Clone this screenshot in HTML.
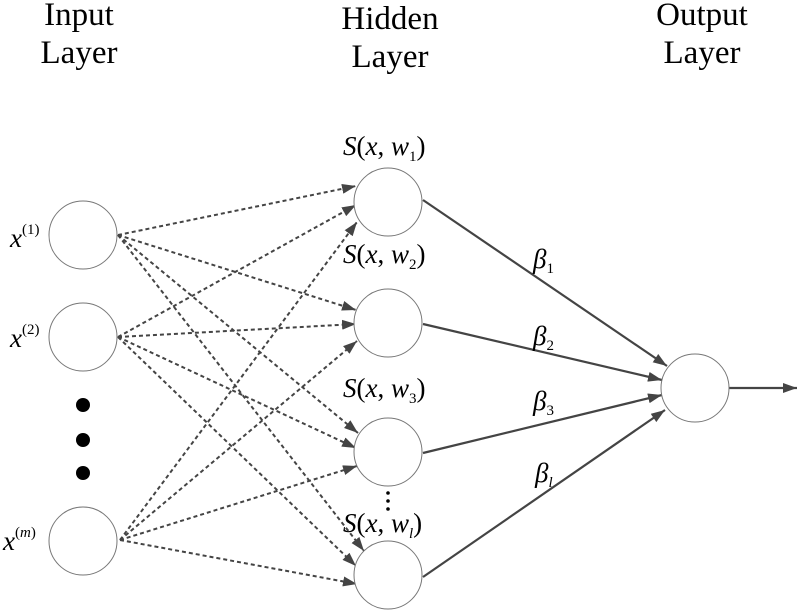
<!DOCTYPE html>
<html><head><meta charset="utf-8"><style>
html,body{margin:0;padding:0;background:#fff}
svg{display:block}
.t{font-family:"Liberation Serif",serif;font-size:33px;fill:#000}
.i{font-family:"Liberation Serif",serif;font-style:italic;font-size:27px;fill:#000}
.u{font-style:normal}
</style></head><body>
<svg width="800" height="613" viewBox="0 0 800 613" xmlns="http://www.w3.org/2000/svg">
<defs>
<marker id="a" viewBox="0 0 14 10" refX="14" refY="5" markerWidth="14" markerHeight="10" markerUnits="userSpaceOnUse" orient="auto">
<path d="M0,0 L14,5 L0,10 Z" fill="#444"/></marker>
</defs>
<text class="t" x="79" y="25" text-anchor="middle">Input</text>
<text class="t" x="79" y="63" text-anchor="middle">Layer</text>
<text class="t" x="390" y="29" text-anchor="middle">Hidden</text>
<text class="t" x="390" y="67" text-anchor="middle">Layer</text>
<text class="t" x="702" y="25" text-anchor="middle">Output</text>
<text class="t" x="702" y="63" text-anchor="middle">Layer</text>

<g stroke="#444" stroke-width="2" stroke-dasharray="4,3" fill="none" marker-end="url(#a)">
<line x1="118" y1="235" x2="356" y2="186"/>
<line x1="118" y1="235" x2="356" y2="310"/>
<line x1="118" y1="235" x2="358" y2="433"/>
<line x1="118" y1="235" x2="364" y2="551"/>
<line x1="118" y1="337" x2="356" y2="205"/>
<line x1="118" y1="337" x2="356" y2="324"/>
<line x1="118" y1="337" x2="356" y2="448"/>
<line x1="118" y1="337" x2="356" y2="566"/>
<line x1="120" y1="540" x2="357" y2="222"/>
<line x1="120" y1="540" x2="357" y2="341"/>
<line x1="120" y1="540" x2="357" y2="466"/>
<line x1="120" y1="540" x2="357" y2="584"/>
</g>
<g stroke="#444" stroke-width="2.2" fill="none" marker-end="url(#a)">
<line x1="423" y1="200" x2="667" y2="366"/>
<line x1="423" y1="324" x2="662" y2="380"/>
<line x1="423" y1="453" x2="662" y2="395"/>
<line x1="423" y1="577" x2="665" y2="410"/>
<line x1="729" y1="388" x2="797" y2="388"/>
</g>
<g fill="#fff" stroke="#777" stroke-width="1">
<circle cx="83" cy="235" r="34"/>
<circle cx="83" cy="337" r="34"/>
<circle cx="83" cy="541" r="34"/>
<circle cx="388" cy="202" r="34"/>
<circle cx="388" cy="323" r="34"/>
<circle cx="388" cy="452" r="34"/>
<circle cx="388" cy="575" r="34"/>
<circle cx="695" cy="388" r="34"/>
</g>
<g fill="#000">
<circle cx="83" cy="405" r="7"/>
<circle cx="83" cy="440" r="7"/>
<circle cx="83" cy="473" r="7"/>
<circle cx="388" cy="493" r="1.8"/>
<circle cx="388" cy="501" r="1.8"/>
<circle cx="388" cy="509" r="1.8"/>
</g>
<text class="i" x="10" y="247">x<tspan class="u" font-size="15" dy="-13">(1)</tspan></text>
<text class="i" x="10" y="347">x<tspan class="u" font-size="15" dy="-13">(2)</tspan></text>
<text class="i" x="3" y="550">x<tspan font-size="15" dy="-13"><tspan class="u">(</tspan>m<tspan class="u">)</tspan></tspan></text>

<text class="i" x="343" y="155">S<tspan class="u">(</tspan>x<tspan class="u">, </tspan>w<tspan class="u" font-size="15" dy="6">1</tspan><tspan class="u" dy="-6">)</tspan></text>
<text class="i" x="343" y="263">S<tspan class="u">(</tspan>x<tspan class="u">, </tspan>w<tspan class="u" font-size="15" dy="6">2</tspan><tspan class="u" dy="-6">)</tspan></text>
<text class="i" x="343" y="397">S<tspan class="u">(</tspan>x<tspan class="u">, </tspan>w<tspan class="u" font-size="15" dy="6">3</tspan><tspan class="u" dy="-6">)</tspan></text>
<text class="i" x="343" y="532">S<tspan class="u">(</tspan>x<tspan class="u">, </tspan>w<tspan font-size="15" dy="6">l</tspan><tspan class="u" dy="-6">)</tspan></text>

<text class="i" x="533" y="268">β<tspan class="u" font-size="15" dy="5">1</tspan></text>
<text class="i" x="533" y="345">β<tspan class="u" font-size="15" dy="5">2</tspan></text>
<text class="i" x="533" y="410">β<tspan class="u" font-size="15" dy="5">3</tspan></text>
<text class="i" x="535" y="482">β<tspan font-size="15" dy="5">l</tspan></text>
</svg>
</body></html>
